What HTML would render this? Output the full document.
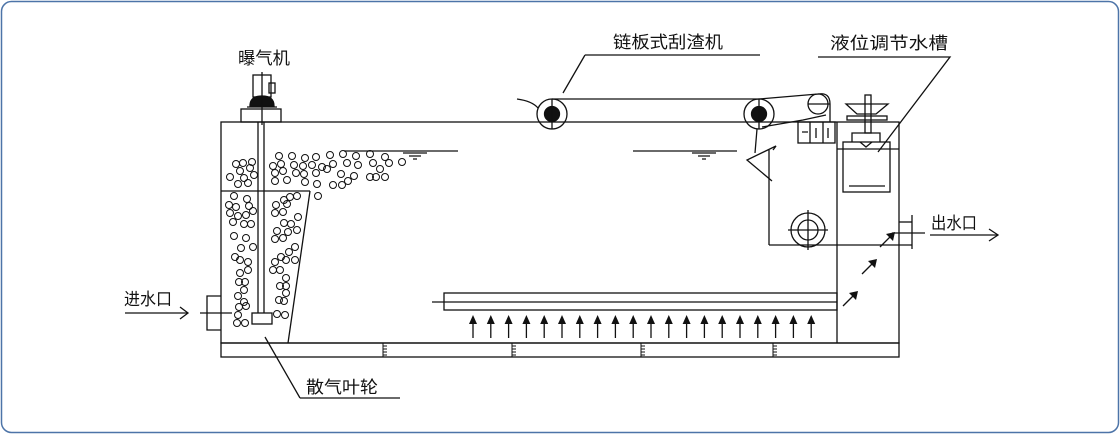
<!DOCTYPE html>
<html><head><meta charset="utf-8"><style>
html,body{margin:0;padding:0;background:#fff;}
svg{display:block;}
text{font-family:"Liberation Sans","Noto Sans CJK SC",sans-serif;font-size:17px;fill:#111;}
</style></head><body>
<svg width="1120" height="434" viewBox="0 0 1120 434" xmlns="http://www.w3.org/2000/svg">
<rect x="1.5" y="1.5" width="1117" height="431" rx="10" fill="#fff" stroke="#4d74a8" stroke-width="1.5"/>
<g stroke="#111" stroke-width="1.3" fill="none">
<rect x="221" y="122" width="678" height="221"/>
<rect x="221" y="343" width="678" height="14"/>
<line x1="837" y1="122" x2="837" y2="343"/>
<line x1="837" y1="149" x2="899" y2="149"/>
<g stroke-width="1">
<path d="M383 343v14M383 346h4M383 349h4M383 352h4M383 355h4"/>
<path d="M512 343v14M512 346h4M512 349h4M512 352h4M512 355h4"/>
<path d="M641 343v14M641 346h4M641 349h4M641 352h4M641 355h4"/>
<path d="M773 343v14M773 346h4M773 349h4M773 352h4M773 355h4"/>
</g>
<line x1="221" y1="191" x2="310" y2="191"/>
<line x1="310" y1="191" x2="288" y2="343"/>
<line x1="258" y1="122" x2="258" y2="313"/>
<line x1="264" y1="122" x2="264" y2="313"/>
<rect x="252" y="313" width="20" height="11"/>
<rect x="241" y="109" width="40" height="13"/>
<rect x="253" y="75" width="18" height="22"/>
<rect x="269" y="83" width="6" height="10"/>
<path d="M250 106 Q250 96 262 96 Q274 96 274 106 Z" fill="#111"/>
<line x1="247" y1="107" x2="277" y2="107"/>
<line x1="262" y1="72" x2="262" y2="125"/>
<path d="M221 296 H207 V330 H221"/>
<line x1="200" y1="313" x2="232" y2="313"/>
<line x1="125" y1="313" x2="188" y2="313"/>
<path d="M180 307 L188 313 L180 319"/>
<line x1="344" y1="151" x2="458" y2="151"/>
<path d="M403 153h24M409 156h12M413 159h4"/>
<line x1="633" y1="151" x2="737" y2="151"/>
<path d="M692 153h24M698 156h12M702 159h4"/>
<path d="M517 99 Q532 101 538 108"/>
<line x1="552" y1="99" x2="759" y2="99"/>
<path d="M759 99 L818 94 Q830 92 830 104 L830 122"/>
<path d="M762 127 L803 120 L826 115"/>
<circle cx="552" cy="114" r="15"/>
<circle cx="552" cy="114" r="7.5" fill="#111"/>
<line x1="552" y1="99" x2="552" y2="129"/>
<circle cx="759" cy="114" r="15"/>
<circle cx="759" cy="114" r="7.5" fill="#111"/>
<line x1="759" y1="99" x2="759" y2="129"/>
<circle cx="818" cy="104" r="10"/>
<line x1="808" y1="104" x2="830" y2="104"/>
<rect x="798" y="122" width="37" height="21"/>
<path d="M810 122v21M823 122v21M802 132h6M816 128v10M828 128v10"/>
<path d="M757 129 L755 153"/>
<path d="M773 150 L776 146 L747 160 L772 181"/>
<line x1="769" y1="150" x2="769" y2="245"/>
<line x1="769" y1="245" x2="912" y2="245"/>
<circle cx="808" cy="230" r="17"/>
<circle cx="808" cy="230" r="10"/>
<path d="M788 230h40M808 210v40"/>
<rect x="843" y="142" width="47" height="50"/>
<line x1="849" y1="186" x2="885" y2="186"/>
<path d="M852 142v-9h28v9"/>
<path d="M860 142 L866 147 L872 142"/>
<rect x="865" y="95" width="6" height="38"/>
<path d="M846 104 L888 104 L876 114 L857 114 Z"/>
<rect x="847" y="116" width="40" height="4"/>
<line x1="912" y1="215" x2="912" y2="249"/>
<line x1="892" y1="233" x2="925" y2="233"/>
<line x1="899" y1="222" x2="912" y2="222"/>
<line x1="930" y1="235" x2="998" y2="235"/>
<path d="M989 229 L998 235 L989 241"/>
<rect x="444" y="293" width="393" height="17"/>
<line x1="432" y1="302" x2="837" y2="302"/>
<path d="M585 55 H760 M585 55 L563 93"/>
<path d="M818 57 H950 L878 152"/>
<path d="M300 398 H400 M300 398 L265 337"/>
</g>
<g stroke="#111" stroke-width="1.3" fill="#111">
<g id="ua"><line x1="473" y1="338" x2="473" y2="322"/><path d="M469 324 L473 315 L477 324 Z" stroke="none"/></g>
<use href="#ua" x="17.8"/><use href="#ua" x="35.6"/><use href="#ua" x="53.4"/><use href="#ua" x="71.2"/>
<use href="#ua" x="89"/><use href="#ua" x="106.8"/><use href="#ua" x="124.6"/><use href="#ua" x="142.4"/>
<use href="#ua" x="160.2"/><use href="#ua" x="178"/><use href="#ua" x="195.8"/><use href="#ua" x="213.6"/>
<use href="#ua" x="231.4"/><use href="#ua" x="249.2"/><use href="#ua" x="267"/><use href="#ua" x="284.8"/>
<use href="#ua" x="302.6"/><use href="#ua" x="320.4"/><use href="#ua" x="338.2"/>
<g id="da"><line x1="843" y1="306" x2="853" y2="296"/><path d="M849 293 L858 291 L856 300 Z" stroke="none"/></g>
<use href="#da" x="19" y="-32"/><use href="#da" x="37" y="-59"/>
</g>
<g stroke="#111" stroke-width="1" fill="none">
<circle cx="236" cy="164" r="3.5"/><circle cx="243" cy="163" r="3.5"/><circle cx="252" cy="162" r="3.5"/><circle cx="240" cy="171" r="3.5"/><circle cx="250" cy="168" r="3.5"/><circle cx="254" cy="175" r="3.5"/><circle cx="230" cy="177" r="3.5"/><circle cx="244" cy="178" r="3.5"/><circle cx="238" cy="184" r="3.5"/><circle cx="248" cy="183" r="3.5"/>
<circle cx="279" cy="156" r="3.5"/><circle cx="292" cy="156" r="3.5"/><circle cx="305" cy="158" r="3.5"/><circle cx="316" cy="157" r="3.5"/><circle cx="330" cy="155" r="3.5"/><circle cx="343" cy="154" r="3.5"/><circle cx="356" cy="156" r="3.5"/><circle cx="370" cy="154" r="3.5"/><circle cx="385" cy="157" r="3.5"/><circle cx="402" cy="162" r="3.5"/>
<circle cx="273" cy="166" r="3.5"/><circle cx="281" cy="164" r="3.5"/><circle cx="294" cy="165" r="3.5"/><circle cx="303" cy="166" r="3.5"/><circle cx="312" cy="165" r="3.5"/><circle cx="322" cy="167" r="3.5"/><circle cx="333" cy="164" r="3.5"/><circle cx="347" cy="163" r="3.5"/><circle cx="358" cy="165" r="3.5"/><circle cx="373" cy="163" r="3.5"/><circle cx="380" cy="169" r="3.5"/><circle cx="389" cy="163" r="3.5"/>
<circle cx="275" cy="173" r="3.5"/><circle cx="283" cy="171" r="3.5"/><circle cx="296" cy="173" r="3.5"/><circle cx="304" cy="174" r="3.5"/><circle cx="316" cy="173" r="3.5"/><circle cx="327" cy="169" r="3.5"/><circle cx="341" cy="174" r="3.5"/><circle cx="354" cy="176" r="3.5"/><circle cx="370" cy="177" r="3.5"/><circle cx="376" cy="177" r="3.5"/><circle cx="385" cy="177" r="3.5"/>
<circle cx="275" cy="181" r="3.5"/><circle cx="287" cy="180" r="3.5"/><circle cx="305" cy="182" r="3.5"/><circle cx="317" cy="184" r="3.5"/><circle cx="333" cy="185" r="3.5"/><circle cx="342" cy="185" r="3.5"/><circle cx="348" cy="181" r="3.5"/><circle cx="318" cy="196" r="3.5"/>
<circle cx="234" cy="196" r="3.5"/><circle cx="247" cy="199" r="3.5"/><circle cx="229" cy="205" r="3.5"/><circle cx="236" cy="207" r="3.5"/><circle cx="249" cy="206" r="3.5"/><circle cx="253" cy="211" r="3.5"/><circle cx="230" cy="213" r="3.5"/><circle cx="238" cy="216" r="3.5"/><circle cx="246" cy="215" r="3.5"/><circle cx="233" cy="222" r="3.5"/><circle cx="244" cy="224" r="3.5"/><circle cx="251" cy="224" r="3.5"/><circle cx="234" cy="236" r="3.5"/><circle cx="246" cy="238" r="3.5"/><circle cx="253" cy="247" r="3.5"/><circle cx="241" cy="248" r="3.5"/><circle cx="235" cy="257" r="3.5"/><circle cx="240" cy="260" r="3.5"/><circle cx="248" cy="262" r="3.5"/><circle cx="240" cy="273" r="3.5"/><circle cx="248" cy="270" r="3.5"/><circle cx="239" cy="282" r="3.5"/><circle cx="245" cy="282" r="3.5"/><circle cx="244" cy="290" r="3.5"/><circle cx="238" cy="296" r="3.5"/><circle cx="244" cy="302" r="3.5"/><circle cx="239" cy="307" r="3.5"/><circle cx="246" cy="306" r="3.5"/><circle cx="238" cy="315" r="3.5"/><circle cx="237" cy="323" r="3.5"/><circle cx="245" cy="323" r="3.5"/>
<circle cx="290" cy="197" r="3.5"/><circle cx="297" cy="196" r="3.5"/><circle cx="284" cy="200" r="3.5"/><circle cx="276" cy="205" r="3.5"/><circle cx="287" cy="204" r="3.5"/><circle cx="275" cy="213" r="3.5"/><circle cx="283" cy="212" r="3.5"/><circle cx="298" cy="217" r="3.5"/><circle cx="284" cy="223" r="3.5"/><circle cx="291" cy="224" r="3.5"/><circle cx="297" cy="230" r="3.5"/><circle cx="277" cy="231" r="3.5"/><circle cx="288" cy="232" r="3.5"/><circle cx="275" cy="239" r="3.5"/><circle cx="283" cy="238" r="3.5"/><circle cx="295" cy="247" r="3.5"/><circle cx="289" cy="252" r="3.5"/><circle cx="281" cy="257" r="3.5"/><circle cx="275" cy="262" r="3.5"/><circle cx="286" cy="260" r="3.5"/><circle cx="295" cy="260" r="3.5"/><circle cx="273" cy="270" r="3.5"/><circle cx="280" cy="270" r="3.5"/><circle cx="286" cy="278" r="3.5"/><circle cx="280" cy="286" r="3.5"/><circle cx="286" cy="286" r="3.5"/><circle cx="286" cy="293" r="3.5"/><circle cx="279" cy="300" r="3.5"/><circle cx="284" cy="301" r="3.5"/><circle cx="277" cy="314" r="3.5"/><circle cx="285" cy="315" r="3.5"/>
</g>
<text x="238" y="64" textLength="52" lengthAdjust="spacingAndGlyphs">曝气机</text>
<text x="613" y="48" textLength="110" lengthAdjust="spacingAndGlyphs">链板式刮渣机</text>
<text x="830" y="49" textLength="118" lengthAdjust="spacingAndGlyphs">液位调节水槽</text>
<text x="124" y="305" textLength="48" lengthAdjust="spacingAndGlyphs">进水口</text>
<text x="931" y="229" textLength="46" lengthAdjust="spacingAndGlyphs">出水口</text>
<text x="306" y="393" textLength="72" lengthAdjust="spacingAndGlyphs">散气叶轮</text>
</svg>
</body></html>
